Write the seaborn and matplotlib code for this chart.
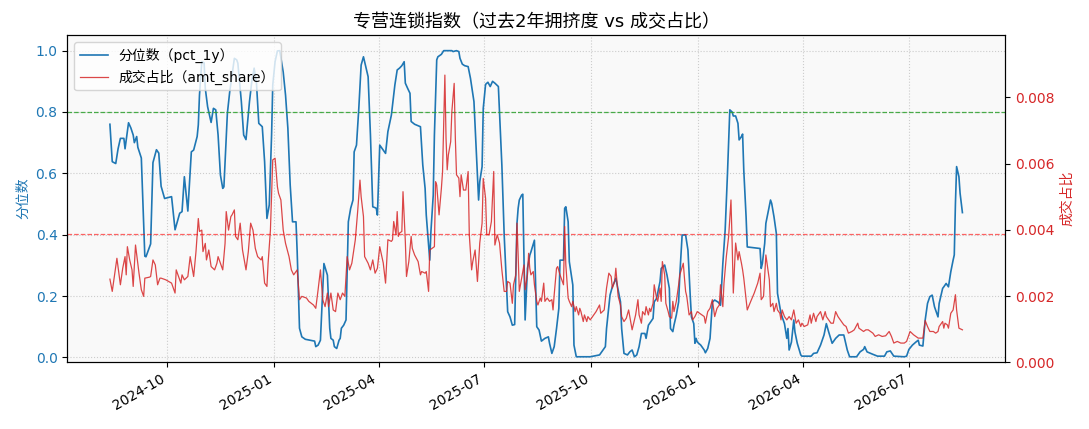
import matplotlib
matplotlib.use("Agg")
import matplotlib.pyplot as plt
import matplotlib.dates as mdates
from matplotlib.ticker import FormatStrFormatter
import seaborn as sns
import pandas as pd

# 拉丁字符用 DejaVu，中文回退到 Noto CJK
plt.rcParams['font.family'] = ['DejaVu Sans', 'Noto Sans CJK SC']
plt.rcParams['axes.unicode_minus'] = False

title = '专营连锁指数（过去2年拥挤度 vs 成交占比）'
pct_label = '分位数（pct_1y）'
amt_label = '成交占比（amt_share）'
crowd_line = 0.8
share_line = 0.00388

# 分位数 pct_1y
pct_dates = [
    "2024-08-13", "2024-08-15", "2024-08-18", "2024-08-20", "2024-08-22", "2024-08-25", "2024-08-26", "2024-08-29",
    "2024-08-31", "2024-09-02", "2024-09-03", "2024-09-05", "2024-09-06", "2024-09-09", "2024-09-12", "2024-09-13",
    "2024-09-17", "2024-09-19", "2024-09-22", "2024-09-24", "2024-09-26", "2024-09-29", "2024-10-05", "2024-10-08",
    "2024-10-12", "2024-10-14", "2024-10-16", "2024-10-19", "2024-10-22", "2024-10-24", "2024-10-27", "2024-10-28",
    "2024-10-29", "2024-10-31", "2024-11-02", "2024-11-03", "2024-11-05", "2024-11-08", "2024-11-10", "2024-11-12",
    "2024-11-14", "2024-11-16", "2024-11-18", "2024-11-19", "2024-11-20", "2024-11-22", "2024-11-24", "2024-11-26",
    "2024-11-28", "2024-11-30", "2024-12-01", "2024-12-04", "2024-12-06", "2024-12-08", "2024-12-11", "2024-12-13",
    "2024-12-15", "2024-12-17", "2024-12-19", "2024-12-22", "2024-12-24", "2024-12-26", "2024-12-28", "2024-12-30",
    "2024-12-31", "2025-01-02", "2025-01-04", "2025-01-06", "2025-01-09", "2025-01-11", "2025-01-13", "2025-01-15",
    "2025-01-17", "2025-01-20", "2025-01-21", "2025-01-23", "2025-01-25", "2025-01-28", "2025-02-01", "2025-02-05",
    "2025-02-06", "2025-02-08", "2025-02-10", "2025-02-12", "2025-02-13", "2025-02-16", "2025-02-18", "2025-02-19",
    "2025-02-21", "2025-02-22", "2025-02-24", "2025-02-26", "2025-02-27", "2025-02-28", "2025-03-02", "2025-03-04",
    "2025-03-06", "2025-03-08", "2025-03-10", "2025-03-11", "2025-03-13", "2025-03-15", "2025-03-17", "2025-03-19",
    "2025-03-20", "2025-03-23", "2025-03-25", "2025-03-27", "2025-03-29", "2025-03-30", "2025-03-31", "2025-04-02",
    "2025-04-05", "2025-04-07", "2025-04-09", "2025-04-12", "2025-04-15", "2025-04-17", "2025-04-19", "2025-04-21",
    "2025-04-23", "2025-04-24", "2025-04-26", "2025-04-28", "2025-04-29", "2025-05-02", "2025-05-05", "2025-05-07",
    "2025-05-09", "2025-05-11", "2025-05-12", "2025-05-15", "2025-05-16", "2025-05-18", "2025-05-19", "2025-05-21",
    "2025-05-22", "2025-05-25", "2025-05-27", "2025-06-03", "2025-06-04", "2025-06-07", "2025-06-09", "2025-06-10",
    "2025-06-12", "2025-06-14", "2025-06-17", "2025-06-19", "2025-06-22", "2025-06-24", "2025-06-26", "2025-06-27",
    "2025-06-29", "2025-06-30", "2025-07-02", "2025-07-04", "2025-07-06", "2025-07-08", "2025-07-10", "2025-07-13",
    "2025-07-16", "2025-07-18", "2025-07-21", "2025-07-23", "2025-07-25", "2025-07-27", "2025-07-29", "2025-07-30",
    "2025-07-31", "2025-08-02", "2025-08-03", "2025-08-05", "2025-08-07", "2025-08-09", "2025-08-10", "2025-08-13",
    "2025-08-15", "2025-08-17", "2025-08-19", "2025-08-22", "2025-08-25", "2025-08-26", "2025-08-28", "2025-08-30",
    "2025-09-01", "2025-09-03", "2025-09-04", "2025-09-07", "2025-09-08", "2025-09-09", "2025-09-11", "2025-09-12",
    "2025-09-15", "2025-09-16", "2025-09-18", "2025-09-30", "2025-10-08", "2025-10-11", "2025-10-13", "2025-10-14",
    "2025-10-17", "2025-10-19", "2025-10-22", "2025-10-24", "2025-10-26", "2025-10-27", "2025-10-29", "2025-11-01",
    "2025-11-03", "2025-11-05", "2025-11-07", "2025-11-09", "2025-11-11", "2025-11-13", "2025-11-16", "2025-11-17",
    "2025-11-19", "2025-11-21", "2025-11-23", "2025-11-24", "2025-11-26", "2025-11-29", "2025-11-30", "2025-12-03",
    "2025-12-05", "2025-12-07", "2025-12-08", "2025-12-10", "2025-12-11", "2025-12-13", "2025-12-15", "2025-12-16",
    "2025-12-18", "2025-12-21", "2025-12-23", "2025-12-25", "2025-12-26", "2025-12-28", "2025-12-29", "2025-12-30",
    "2025-12-31", "2026-01-03", "2026-01-06", "2026-01-07", "2026-01-09", "2026-01-11", "2026-01-13", "2026-01-15",
    "2026-01-18", "2026-01-20", "2026-01-21", "2026-01-22", "2026-01-24", "2026-01-26", "2026-01-28", "2026-01-30",
    "2026-01-31", "2026-02-02", "2026-02-04", "2026-02-05", "2026-02-07", "2026-02-08", "2026-02-09", "2026-02-11",
    "2026-02-12", "2026-02-23", "2026-02-24", "2026-02-25", "2026-02-27", "2026-02-28", "2026-03-04", "2026-03-05",
    "2026-03-07", "2026-03-09", "2026-03-10", "2026-03-12", "2026-03-13", "2026-03-16", "2026-03-18", "2026-03-19",
    "2026-03-20", "2026-03-22", "2026-03-24", "2026-03-25", "2026-03-27", "2026-03-30", "2026-03-31", "2026-04-08",
    "2026-04-10", "2026-04-13", "2026-04-16", "2026-04-19", "2026-04-21", "2026-04-23", "2026-04-26", "2026-04-29",
    "2026-05-02", "2026-05-06", "2026-05-09", "2026-05-11", "2026-05-17", "2026-05-20", "2026-05-23", "2026-05-24",
    "2026-05-26", "2026-05-31", "2026-06-04", "2026-06-10", "2026-06-12", "2026-06-15", "2026-06-18", "2026-06-27",
    "2026-06-29", "2026-07-01", "2026-07-04", "2026-07-07", "2026-07-09", "2026-07-10", "2026-07-13", "2026-07-15",
    "2026-07-17", "2026-07-19", "2026-07-21", "2026-07-23", "2026-07-26", "2026-07-27", "2026-07-30", "2026-07-31",
    "2026-08-02", "2026-08-04", "2026-08-06", "2026-08-08", "2026-08-09", "2026-08-10", "2026-08-11", "2026-08-13",
    "2026-08-14", "2026-08-16",
]
pct_values = [
    0.76, 0.638, 0.632, 0.68, 0.714, 0.714, 0.68, 0.765,
    0.748, 0.725, 0.70, 0.72, 0.685, 0.65, 0.33, 0.328,
    0.37, 0.635, 0.677, 0.666, 0.558, 0.518, 0.524, 0.416,
    0.47, 0.475, 0.589, 0.477, 0.67, 0.676, 0.72, 0.758,
    0.855, 0.964, 0.96, 0.877, 0.817, 0.766, 0.812, 0.807,
    0.725, 0.595, 0.551, 0.556, 0.638, 0.796, 0.866, 0.92,
    0.975, 0.97, 0.959, 0.834, 0.725, 0.71, 0.834, 0.90,
    0.943, 0.894, 0.763, 0.752, 0.638, 0.453, 0.497, 0.725,
    0.888, 0.964, 0.999, 1.0, 0.93, 0.855, 0.747, 0.562,
    0.442, 0.442, 0.344, 0.095, 0.067, 0.059, 0.056, 0.053,
    0.035, 0.04, 0.056, 0.225, 0.306, 0.268, 0.095, 0.062,
    0.056, 0.035, 0.029, 0.056, 0.062, 0.095, 0.105, 0.122,
    0.442, 0.486, 0.513, 0.67, 0.692, 0.812, 0.953, 0.98,
    0.964, 0.915, 0.725, 0.491, 0.488, 0.486, 0.464, 0.692,
    0.676, 0.665, 0.736, 0.79, 0.888, 0.937, 0.943, 0.951,
    0.964, 0.894, 0.877, 0.861, 0.769, 0.76, 0.755, 0.752,
    0.627, 0.551, 0.464, 0.317, 0.41, 0.529, 0.725, 0.97,
    0.98, 0.988, 1.0, 1.0, 0.997, 1.0, 0.997, 0.975,
    0.956, 0.951, 0.948, 0.91, 0.834, 0.67, 0.513, 0.573,
    0.622, 0.812, 0.89, 0.897, 0.883, 0.90, 0.894, 0.883,
    0.627, 0.399, 0.149, 0.132, 0.105, 0.107, 0.437, 0.486,
    0.513, 0.529, 0.532, 0.122, 0.29, 0.333, 0.344, 0.382,
    0.10, 0.089, 0.053, 0.062, 0.067, 0.046, 0.013, 0.035,
    0.094, 0.16, 0.317, 0.317, 0.486, 0.491, 0.442, 0.312,
    0.236, 0.04, 0.002, 0.002, 0.008, 0.024, 0.035, 0.094,
    0.203, 0.23, 0.258, 0.22, 0.181, 0.094, 0.013, 0.008,
    0.018, 0.024, 0.002, 0.008, 0.035, 0.078, 0.078, 0.062,
    0.105, 0.116, 0.127, 0.181, 0.192, 0.247, 0.29, 0.301,
    0.268, 0.225, 0.094, 0.084, 0.105, 0.138, 0.181, 0.268,
    0.399, 0.399, 0.35, 0.198, 0.132, 0.11, 0.046, 0.062,
    0.05, 0.04, 0.024, 0.015, 0.029, 0.062, 0.18, 0.187,
    0.18, 0.17, 0.24, 0.306, 0.415, 0.60, 0.807, 0.80,
    0.787, 0.787, 0.763, 0.709, 0.72, 0.728, 0.611, 0.458,
    0.36, 0.355, 0.29, 0.306, 0.372, 0.437, 0.513, 0.502,
    0.458, 0.404, 0.209, 0.165, 0.143, 0.11, 0.062, 0.094,
    0.024, 0.05, 0.122, 0.083, 0.046, 0.008, 0.004, 0.004,
    0.013, 0.015, 0.04, 0.073, 0.11, 0.083, 0.046, 0.062,
    0.073, 0.073, 0.024, 0.002, 0.002, 0.018, 0.026, 0.035,
    0.018, 0.01, 0.004, 0.004, 0.018, 0.021, 0.004, 0.002,
    0.004, 0.026, 0.04, 0.05, 0.056, 0.04, 0.037, 0.122,
    0.176, 0.198, 0.203, 0.165, 0.132, 0.176, 0.225, 0.23,
    0.241, 0.23, 0.279, 0.317, 0.334, 0.502, 0.622, 0.589,
    0.535, 0.472,
]

# 成交占比 amt_share
amt_dates = [
    "2024-08-13", "2024-08-15", "2024-08-17", "2024-08-19", "2024-08-22", "2024-08-24", "2024-08-26", "2024-08-27",
    "2024-08-28", "2024-08-30", "2024-09-01", "2024-09-02", "2024-09-04", "2024-09-07", "2024-09-09", "2024-09-11",
    "2024-09-12", "2024-09-16", "2024-09-17", "2024-09-19", "2024-09-21", "2024-09-23", "2024-09-25", "2024-09-26",
    "2024-09-30", "2024-10-05", "2024-10-08", "2024-10-09", "2024-10-11", "2024-10-13", "2024-10-14", "2024-10-16",
    "2024-10-19", "2024-10-21", "2024-10-23", "2024-10-24", "2024-10-26", "2024-10-28", "2024-10-29", "2024-10-31",
    "2024-11-01", "2024-11-03", "2024-11-04", "2024-11-06", "2024-11-08", "2024-11-11", "2024-11-13", "2024-11-14",
    "2024-11-16", "2024-11-18", "2024-11-20", "2024-11-21", "2024-11-23", "2024-11-25", "2024-11-26", "2024-11-28",
    "2024-11-29", "2024-12-01", "2024-12-03", "2024-12-05", "2024-12-06", "2024-12-08", "2024-12-10", "2024-12-12",
    "2024-12-14", "2024-12-16", "2024-12-18", "2024-12-21", "2024-12-22", "2024-12-24", "2024-12-26", "2024-12-27",
    "2024-12-29", "2024-12-31", "2025-01-02", "2025-01-04", "2025-01-05", "2025-01-07", "2025-01-09", "2025-01-11",
    "2025-01-14", "2025-01-16", "2025-01-18", "2025-01-21", "2025-01-23", "2025-01-25", "2025-01-29", "2025-01-31",
    "2025-02-04", "2025-02-06", "2025-02-08", "2025-02-10", "2025-02-12", "2025-02-14", "2025-02-16", "2025-02-17",
    "2025-02-19", "2025-02-21", "2025-02-23", "2025-02-25", "2025-02-27", "2025-03-01", "2025-03-03", "2025-03-05",
    "2025-03-07", "2025-03-09", "2025-03-12", "2025-03-14", "2025-03-16", "2025-03-17", "2025-03-19", "2025-03-20",
    "2025-03-23", "2025-03-25", "2025-03-27", "2025-03-29", "2025-03-31", "2025-04-02", "2025-04-05", "2025-04-07",
    "2025-04-09", "2025-04-12", "2025-04-13", "2025-04-14", "2025-04-16", "2025-04-17", "2025-04-18", "2025-04-19",
    "2025-04-21", "2025-04-22", "2025-04-24", "2025-04-25", "2025-04-27", "2025-04-29", "2025-04-30", "2025-05-02",
    "2025-05-05", "2025-05-07", "2025-05-08", "2025-05-11", "2025-05-12", "2025-05-14", "2025-05-15", "2025-05-17",
    "2025-05-19", "2025-05-20", "2025-05-21", "2025-05-23", "2025-05-25", "2025-05-26", "2025-05-28", "2025-05-29",
    "2025-05-30", "2025-05-31", "2025-06-02", "2025-06-03", "2025-06-05", "2025-06-06", "2025-06-07", "2025-06-09",
    "2025-06-10", "2025-06-11", "2025-06-13", "2025-06-15", "2025-06-17", "2025-06-18", "2025-06-20", "2025-06-21",
    "2025-06-23", "2025-06-25", "2025-06-27", "2025-06-29", "2025-06-30", "2025-07-02", "2025-07-03", "2025-07-05",
    "2025-07-07", "2025-07-09", "2025-07-10", "2025-07-12", "2025-07-14", "2025-07-16", "2025-07-18", "2025-07-20",
    "2025-07-21", "2025-07-23", "2025-07-25", "2025-07-26", "2025-07-28", "2025-07-29", "2025-07-30", "2025-07-31",
    "2025-08-02", "2025-08-04", "2025-08-05", "2025-08-07", "2025-08-08", "2025-08-09", "2025-08-10", "2025-08-12",
    "2025-08-13", "2025-08-15", "2025-08-16", "2025-08-18", "2025-08-19", "2025-08-21", "2025-08-22", "2025-08-24",
    "2025-08-26", "2025-08-28", "2025-08-29", "2025-08-30", "2025-09-01", "2025-09-02", "2025-09-04", "2025-09-06",
    "2025-09-07", "2025-09-08", "2025-09-09", "2025-09-11", "2025-09-12", "2025-09-14", "2025-09-15", "2025-09-17",
    "2025-09-18", "2025-09-20", "2025-09-21", "2025-09-22", "2025-09-24", "2025-09-25", "2025-09-27", "2025-09-28",
    "2025-09-30", "2025-10-02", "2025-10-05", "2025-10-08", "2025-10-09", "2025-10-12", "2025-10-14", "2025-10-16",
    "2025-10-18", "2025-10-19", "2025-10-21", "2025-10-22", "2025-10-24", "2025-10-26", "2025-10-27", "2025-10-29",
    "2025-10-31", "2025-11-02", "2025-11-04", "2025-11-05", "2025-11-08", "2025-11-10", "2025-11-11", "2025-11-13",
    "2025-11-14", "2025-11-16", "2025-11-17", "2025-11-19", "2025-11-20", "2025-11-21", "2025-11-23", "2025-11-24",
    "2025-11-26", "2025-11-27", "2025-11-29", "2025-11-30", "2025-12-01", "2025-12-03", "2025-12-04", "2025-12-06",
    "2025-12-07", "2025-12-09", "2025-12-10", "2025-12-11", "2025-12-13", "2025-12-15", "2025-12-16", "2025-12-19",
    "2025-12-20", "2025-12-21", "2025-12-22", "2025-12-24", "2025-12-26", "2025-12-27", "2025-12-29", "2025-12-31",
    "2026-01-02", "2026-01-04", "2026-01-06", "2026-01-07", "2026-01-09", "2026-01-11", "2026-01-13", "2026-01-15",
    "2026-01-17", "2026-01-19", "2026-01-20", "2026-01-22", "2026-01-23", "2026-01-25", "2026-01-27", "2026-01-29",
    "2026-01-30", "2026-01-31", "2026-02-02", "2026-02-04", "2026-02-05", "2026-02-07", "2026-02-08", "2026-02-09",
    "2026-02-12", "2026-02-15", "2026-02-18", "2026-02-21", "2026-02-23", "2026-02-24", "2026-02-26", "2026-02-27",
    "2026-02-28", "2026-03-03", "2026-03-04", "2026-03-06", "2026-03-07", "2026-03-09", "2026-03-10", "2026-03-12",
    "2026-03-13", "2026-03-14", "2026-03-16", "2026-03-18", "2026-03-20", "2026-03-22", "2026-03-24", "2026-03-26",
    "2026-03-28", "2026-03-30", "2026-03-31", "2026-04-02", "2026-04-05", "2026-04-07", "2026-04-08", "2026-04-10",
    "2026-04-12", "2026-04-13", "2026-04-16", "2026-04-18", "2026-04-20", "2026-04-21", "2026-04-23", "2026-04-25",
    "2026-04-27", "2026-04-29", "2026-05-01", "2026-05-03", "2026-05-06", "2026-05-08", "2026-05-10", "2026-05-13",
    "2026-05-15", "2026-05-18", "2026-05-19", "2026-05-21", "2026-05-23", "2026-05-25", "2026-05-27", "2026-05-29",
    "2026-05-31", "2026-06-02", "2026-06-05", "2026-06-08", "2026-06-11", "2026-06-14", "2026-06-16", "2026-06-18",
    "2026-06-21", "2026-06-24", "2026-06-27", "2026-06-29", "2026-07-02", "2026-07-05", "2026-07-07", "2026-07-09",
    "2026-07-11", "2026-07-13", "2026-07-15", "2026-07-17", "2026-07-19", "2026-07-22", "2026-07-24", "2026-07-26",
    "2026-07-27", "2026-07-30", "2026-07-31", "2026-08-01", "2026-08-03", "2026-08-04", "2026-08-06", "2026-08-08",
    "2026-08-10", "2026-08-11", "2026-08-13", "2026-08-16",
]
amt_values = [
    0.00251, 0.00214, 0.00264, 0.00314, 0.00234, 0.00284, 0.00319, 0.00264,
    0.00349, 0.00309, 0.00279, 0.00229, 0.00354, 0.00269, 0.00219, 0.00199,
    0.00254, 0.00257, 0.00259, 0.00309, 0.00294, 0.00234, 0.00254, 0.00254,
    0.00249, 0.00239, 0.00209, 0.00279, 0.00259, 0.00239, 0.00264, 0.00249,
    0.00259, 0.00319, 0.00279, 0.00259, 0.00334, 0.00434, 0.00395, 0.00399,
    0.00334, 0.00359, 0.00309, 0.00339, 0.00289, 0.00279, 0.00299, 0.00319,
    0.00299, 0.00279, 0.00359, 0.00455, 0.00399, 0.00440, 0.00445, 0.00460,
    0.00380, 0.00370, 0.00420, 0.00339, 0.00319, 0.00279, 0.00334, 0.00420,
    0.00399, 0.00344, 0.00319, 0.00309, 0.00319, 0.00239, 0.00229, 0.00299,
    0.00399, 0.00611, 0.00616, 0.00530, 0.00510, 0.00490, 0.00399, 0.00359,
    0.00319, 0.00279, 0.00264, 0.00279, 0.00189, 0.00199, 0.00194, 0.00184,
    0.00173, 0.00163, 0.00219, 0.00279, 0.00189, 0.00168, 0.00209, 0.00168,
    0.00209, 0.00158, 0.00153, 0.00209, 0.00189, 0.00209, 0.00199, 0.00319,
    0.00279, 0.00299, 0.00370, 0.00455, 0.00550, 0.00500, 0.00440, 0.00319,
    0.00299, 0.00279, 0.00309, 0.00269, 0.00284, 0.00349, 0.00300, 0.00239,
    0.00370, 0.00365, 0.00370, 0.00425, 0.00385, 0.00455, 0.00380, 0.00390,
    0.00395, 0.00515, 0.00365, 0.00259, 0.00304, 0.00380, 0.00344, 0.00324,
    0.00304, 0.00264, 0.00274, 0.00269, 0.00274, 0.00214, 0.00339, 0.00344,
    0.00349, 0.00545, 0.00535, 0.00445, 0.00525, 0.00575, 0.00867, 0.00676,
    0.00581, 0.00626, 0.00666, 0.00757, 0.00842, 0.00676, 0.00566, 0.00556,
    0.00500, 0.00566, 0.00520, 0.00520, 0.00576, 0.00385, 0.00279, 0.00304,
    0.00339, 0.00244, 0.00360, 0.00420, 0.00555, 0.00495, 0.00385, 0.00385,
    0.00425, 0.00576, 0.00354, 0.00385, 0.00360, 0.00279, 0.00214, 0.00214,
    0.00244, 0.00239, 0.00178, 0.00234, 0.00264, 0.00420, 0.00324, 0.00214,
    0.00254, 0.00294, 0.00219, 0.00264, 0.00329, 0.00284, 0.00264, 0.00274,
    0.00234, 0.00184, 0.00173, 0.00194, 0.00184, 0.00239, 0.00184, 0.00194,
    0.00184, 0.00189, 0.00158, 0.00204, 0.00284, 0.00289, 0.00264, 0.00244,
    0.00234, 0.00410, 0.00294, 0.00194, 0.00184, 0.00168, 0.00184, 0.00153,
    0.00168, 0.00143, 0.00163, 0.00153, 0.00123, 0.00143, 0.00123, 0.00138,
    0.00128, 0.00138, 0.00153, 0.00173, 0.00148, 0.00158, 0.00224, 0.00269,
    0.00259, 0.00224, 0.00244, 0.00284, 0.00199, 0.00173, 0.00138, 0.00123,
    0.00133, 0.00158, 0.00118, 0.00098, 0.00143, 0.00189, 0.00143, 0.00118,
    0.00153, 0.00143, 0.00168, 0.00143, 0.00163, 0.00153, 0.00178, 0.00234,
    0.00194, 0.00184, 0.00224, 0.00184, 0.00304, 0.00264, 0.00178, 0.00153,
    0.00138, 0.00133, 0.00184, 0.00153, 0.00184, 0.00234, 0.00264, 0.00299,
    0.00254, 0.00214, 0.00199, 0.00143, 0.00153, 0.00128, 0.00138, 0.00153,
    0.00148, 0.00143, 0.00138, 0.00118, 0.00153, 0.00163, 0.00189, 0.00138,
    0.00163, 0.00173, 0.00234, 0.00168, 0.00239, 0.00319, 0.00380, 0.00490,
    0.00360, 0.00209, 0.00360, 0.00309, 0.00334, 0.00299, 0.00279, 0.00254,
    0.00158, 0.00184, 0.00209, 0.00239, 0.00269, 0.00189, 0.00199, 0.00259,
    0.00324, 0.00249, 0.00168, 0.00178, 0.00153, 0.00178, 0.00158, 0.00148,
    0.00128, 0.00158, 0.00138, 0.00128, 0.00138, 0.00128, 0.00158, 0.00118,
    0.00128, 0.00108, 0.00118, 0.00108, 0.00113, 0.00143, 0.00118, 0.00148,
    0.00123, 0.00138, 0.00153, 0.00128, 0.00153, 0.00138, 0.00128, 0.00118,
    0.00118, 0.00153, 0.00138, 0.00128, 0.00113, 0.00108, 0.00088, 0.00093,
    0.00098, 0.00118, 0.00103, 0.00098, 0.00093, 0.00098, 0.00098, 0.00093,
    0.00088, 0.00078, 0.00083, 0.00078, 0.00080, 0.00093, 0.00078, 0.00058,
    0.00063, 0.00058, 0.00058, 0.00063, 0.00093, 0.00083, 0.00078, 0.00073,
    0.00073, 0.00073, 0.00126, 0.00108, 0.00093, 0.00093, 0.00088, 0.00093,
    0.00108, 0.00123, 0.00103, 0.00118, 0.00113, 0.00103, 0.00148, 0.00158,
    0.00204, 0.00158, 0.00103, 0.00098,
]

pct = pd.DataFrame({'date': pd.to_datetime(pct_dates), 'pct_1y': pct_values})
amt = pd.DataFrame({'date': pd.to_datetime(amt_dates), 'amt_share': amt_values})

blue = '#1f77b4'
red = '#d62728'

fig, ax = plt.subplots(figsize=(10.89, 4.29), dpi=100)
fig.subplots_adjust(left=0.0618, right=0.9229, top=0.9184, bottom=0.1555)
ax.set_facecolor('#f9f9f9')

sns.lineplot(data=pct, x='date', y='pct_1y', ax=ax, color=blue, lw=1.2,
             estimator=None, sort=False, legend=False)
ax.axhline(crowd_line, color='#2ca02c', ls='--', lw=0.9, alpha=0.85)
ax.set_ylim(-0.016, 1.051)
ax.set_ylabel('分位数', color=blue, fontsize=10)
ax.set_xlabel('')
ax.tick_params(axis='y', labelcolor=blue)
ax.grid(True, linestyle=':', color='#cccccc', lw=0.8)

ax2 = ax.twinx()
sns.lineplot(data=amt, x='date', y='amt_share', ax=ax2, color=red, lw=0.9, alpha=0.85,
             estimator=None, sort=False, legend=False)
ax2.axhline(share_line, color='red', ls='--', lw=0.9, alpha=0.6)
ax2.set_ylim(0, 0.00988)
ax2.set_ylabel('成交占比', color=red, fontsize=10)
ax2.tick_params(axis='y', labelcolor=red)
ax2.yaxis.set_major_formatter(FormatStrFormatter('%.3f'))
ax2.grid(False)

ax.xaxis.set_major_locator(mdates.MonthLocator(bymonth=[1, 4, 7, 10]))
ax.xaxis.set_major_formatter(mdates.DateFormatter('%Y-%m'))
plt.setp(ax.get_xticklabels(), rotation=30, ha='right')

handles = [ax.get_lines()[0], ax2.get_lines()[0]]
ax2.legend(handles, [pct_label, amt_label], loc='upper left', fontsize=10, framealpha=0.8)

ax.set_title(title, fontsize=13)

fig.savefig('out.png', dpi=100)
